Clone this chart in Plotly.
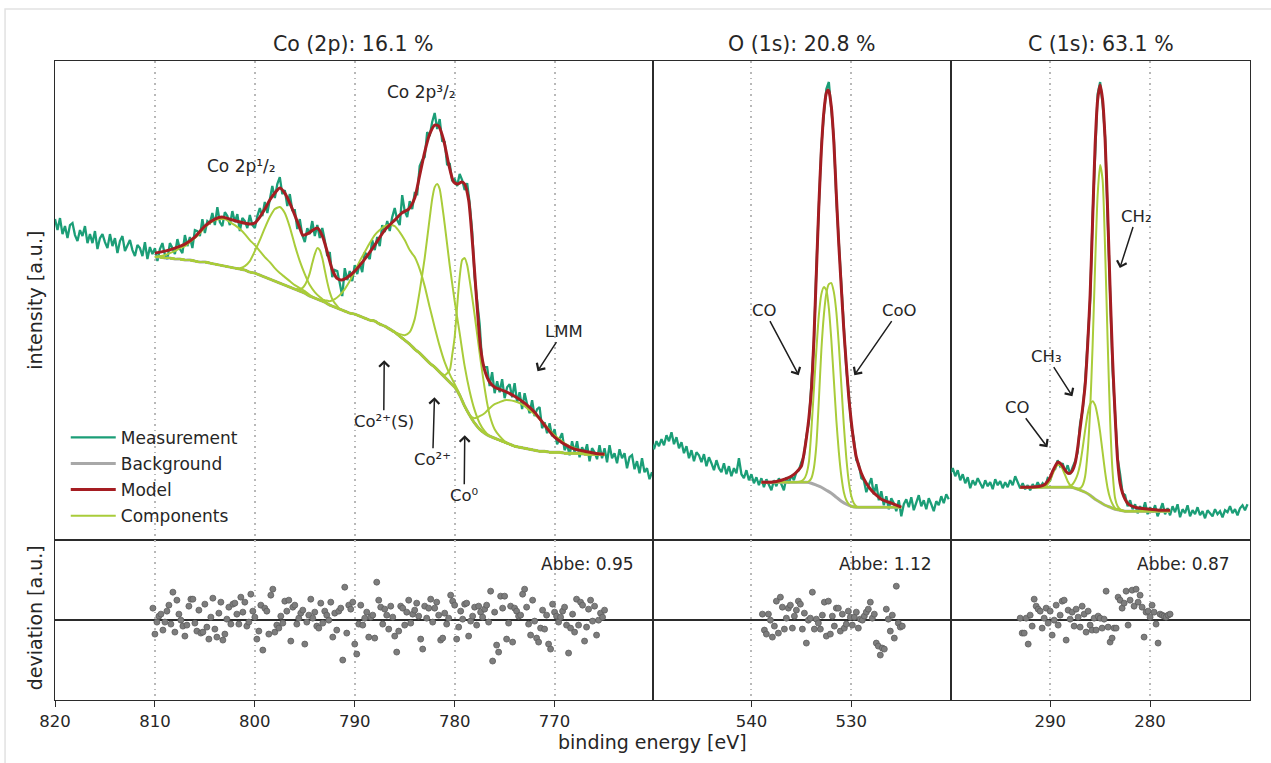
import numpy as np
import plotly.graph_objects as go
from plotly.subplots import make_subplots

# ======================= DATA =======================
# intensities are in arbitrary units (0 = bottom of the spectrum panel)
# ---------- Co 2p ----------
co_title = "Co (2p): 16.1 %"
co_range = [820.0, 760.2]
co_ticks = [820, 810, 800, 790, 780, 770]
co_meas_start, co_meas_step = 820.0, 0.25
co_meas = [
    321, 310, 322, 306, 314, 302, 315, 317, 305, 299,
    310, 304, 314, 297, 306, 297, 309, 291, 302, 306,
    298, 292, 306, 294, 302, 287, 299, 304, 289, 294,
    300, 290, 284, 295, 292, 284, 298, 281, 293, 286,
    292, 279, 291, 297, 285, 281, 297, 292, 286, 301,
    291, 287, 305, 294, 303, 292, 310, 309, 304, 321,
    307, 319, 317, 327, 315, 333, 318, 314, 328, 324,
    315, 329, 318, 326, 309, 322, 319, 312, 325, 315,
    312, 324, 332, 324, 338, 327, 342, 354, 342, 356,
    363, 346, 350, 334, 346, 330, 330, 311, 321, 305,
    298, 312, 306, 319, 304, 315, 302, 312, 300, 284,
    288, 263, 270, 269, 257, 244, 272, 260, 269, 259,
    275, 266, 277, 268, 288, 284, 281, 300, 290, 303,
    294, 315, 308, 319, 309, 323, 332, 320, 315, 345,
    329, 323, 339, 331, 347, 346, 374, 380, 383, 408,
    404, 418, 427, 411, 421, 399, 398, 375, 377, 359,
    361, 354, 366, 360, 350, 357, 337, 309, 263, 239,
    216, 177, 173, 173, 154, 168, 147, 159, 148, 161,
    142, 153, 156, 143, 157, 138, 148, 131, 147, 136,
    127, 140, 124, 131, 133, 112, 118, 107, 117, 104,
    111, 96, 102, 107, 90, 96, 85, 99, 88, 99,
    83, 93, 87, 96, 79, 92, 88, 81, 95, 82,
    92, 78, 95, 82, 87, 77, 91, 82, 87, 72,
    83, 85, 71, 79, 67, 82, 68, 72, 61, 68]
co_model_E = [810, 809, 808, 807, 806, 805, 804, 803.3, 802.5, 801.5, 800.5, 800,
              799.5, 799, 798.5, 798, 797.5, 797, 796.5, 796, 795.5, 795.2,
              794.6, 794.2, 793.7, 793.2, 792.8, 792.3, 791.8, 791.3, 790.7, 790,
              789, 788, 787, 786, 785.3, 784.6, 784, 783.5, 783, 782.5,
              782, 781.6, 781.1, 780.6, 780.1, 779.7, 779.3, 779, 778.6, 778.2,
              777.8, 777.4, 777, 776.5, 776, 775, 774, 773, 772, 771,
              770, 769, 768, 767, 766, 765]
co_model = [287, 289, 292, 296, 303, 314, 321, 323, 321, 318, 316, 317,
            323, 331, 340, 347, 352, 347, 337, 325, 312, 305,
            307, 310, 312, 303, 290, 272, 262, 260, 263, 269,
            281, 295, 310, 320, 327, 331, 342, 365, 388, 406,
            415, 414, 400, 376, 358, 356, 358, 356, 340, 295,
            240, 192, 170, 158, 153, 149, 144, 137, 128, 115,
            103, 96, 91, 89, 87, 86]
co_bg_start, co_bg_step = 810.0, 0.5
co_bg = [283, 283, 282, 282, 281, 281, 280, 280, 279, 278,
         278, 277, 276, 275, 274, 273, 272, 271, 270, 268,
         267, 265, 263, 261, 259, 257, 255, 253, 251, 249,
         247, 244, 242, 240, 238, 235, 233, 231, 229, 227,
         226, 224, 222, 220, 219, 216, 214, 211, 208, 204,
         200, 196, 191, 187, 182, 177, 173, 168, 163, 158,
         153, 145, 134, 125, 117, 111, 107, 104, 102, 100,
         98, 96, 94, 93, 92, 91, 90, 89, 89, 88,
         88, 88, 87, 87, 87, 87, 86, 86, 86, 86, 86]
co_c1_E = [810, 809.5, 809, 808.5, 808, 807.5, 807, 806.5, 806, 805.5, 805, 804.5, 804,
           803.5, 803, 802.5, 802, 801.5, 801, 800.5, 800, 799.5, 799, 798.5, 798,
           797.5, 797, 796.5, 796, 795.5, 795, 794.5, 794]
co_c1 = [283, 284, 285, 287, 289, 292, 294, 298, 302, 307, 313, 317, 320,
         321, 321, 318, 315, 311, 306, 300, 295, 289, 283, 278, 272,
         267, 263, 259, 255, 252, 249, 245, 242]
co_c2_E = [802, 801.5, 801, 800.5, 800, 799.5, 799, 798.5, 798, 797.5,
           797, 796.5, 796, 795.5, 795, 794.5, 794, 793.5, 793, 792.5]
co_c2 = [272, 272, 274, 279, 289, 300, 312, 323, 331, 333,
         327, 313, 295, 279, 266, 255, 248, 243, 239, 235]
co_c3_E = [796, 795.75, 795.5, 795.25, 795, 794.75, 794.5, 794.25, 794, 793.75,
           793.5, 793.25, 793, 792.75, 792.5, 792.25, 792, 791.75, 791.5]
co_c3 = [251, 251, 251, 252, 255, 260, 267, 277, 286, 292,
         290, 282, 270, 258, 248, 241, 237, 234, 231]
co_c4_E = [793, 792.5, 792, 791.5, 791, 790.5, 790, 789.5, 789, 788.5,
           788, 787.5, 787, 786.5, 786, 785.5, 785, 784.5, 784, 783.5,
           783, 782.5, 782, 781.5, 781, 780.5, 780, 779.5, 779]
co_c4 = [240, 239, 241, 245, 251, 259, 269, 279, 288, 297,
         305, 310, 314, 315, 314, 308, 300, 290, 283, 271,
         254, 233, 213, 194, 178, 166, 156, 146, 134]
co_c5_E = [786, 785.5, 785, 784.5, 784, 783.5, 783, 782.5, 782.25, 782, 781.75, 781.5,
           781.25, 781, 780.5, 780, 779.5, 779, 778.5, 778, 777.5, 777, 776.5]
co_c5 = [208, 206, 205, 208, 221, 249, 282, 322, 341, 353, 356, 351,
         335, 316, 275, 239, 207, 174, 149, 130, 117, 109, 104]
co_c6_E = [781.5, 781, 780.5, 780.25, 780, 779.75, 779.5, 779.25, 779, 778.75, 778.5, 778.25,
           778, 777.75, 777.5, 777.25, 777, 776.75, 776.5, 776, 775.5, 775, 774.5]
co_c6 = [168, 165, 170, 185, 203, 234, 263, 280, 282, 275, 260, 243,
         225, 206, 187, 169, 152, 137, 125, 111, 104, 99, 96]
co_c7_E = [778.5, 778, 777.5, 777, 776.5, 776, 775.5, 775, 774.5, 774, 773.5, 773, 772.5,
           772, 771.5, 771, 770.5, 770, 769.5, 769, 768.5, 768, 767.5, 767, 766, 765]
co_c7 = [125, 122, 124, 127, 132, 136, 138, 140, 140, 139, 137, 134, 130,
         126, 121, 116, 110, 105, 101, 97, 94, 92, 90, 88, 87, 86]
co_dev_start, co_dev_step = 810.2, 0.2
co_dev = [12, -14, -2, 4, 6, -10, -2, 9, 15, -4,
          28, -12, 20, 6, 0, -6, -16, -5, 14, 21,
          21, -3, -11, 10, -13, -12, 16, -7, -19, 3,
          22, -9, -17, 7, 18, -20, -14, 1, 13, -4,
          16, 17, 6, -4, 23, 8, 18, -6, -2, 26,
          9, 3, -19, -11, 15, -30, 12, 9, -14, 25,
          31, -12, -5, -8, 4, -3, 19, 9, 20, -21,
          13, 15, -4, 2, 7, 10, -24, -2, 5, 21,
          2, 8, -6, -8, 17, -3, 9, 5, 0, 18,
          -17, 7, -10, 9, 12, -40, 33, -13, 15, 11,
          18, -24, -34, -4, 15, -5, 2, 8, -17, 3,
          5, -18, 38, 20, 13, -4, 11, 5, -9, 14,
          3, -16, -32, -11, 14, 12, -5, 8, 20, -3,
          6, 10, 17, 4, -19, -29, 14, 2, 12, 21,
          -2, 12, 18, 5, -20, -18, 7, -4, 2, 25,
          19, 15, -19, -7, 9, 1, 16, 17, -16, -1,
          4, 13, -5, 14, 8, 3, 11, 15, -2, 29,
          -41, 8, -25, -32, 24, 12, 24, -19, -3, 14,
          -22, 12, 9, 4, 5, 26, 31, 13, -4, -15,
          20, -1, -18, -22, -8, 10, -9, 5, -24, -29,
          16, 8, 4, -2, 3, 9, 13, -5, -33, -8,
          6, -12, 21, -5, 18, 15, -21, -7, 11, 20,
          -1, 14, -15, 0, 7, 3, 10]
co_abbe = "Abbe: 0.95"

# ---------- O 1s ----------
o_title = "O (1s): 20.8 %"
o_range = [549.9, 520.0]
o_ticks = [540, 530]
o_meas_start, o_meas_step = 550.0, 0.25
o_meas = [
    98, 91, 99, 94, 101, 95, 105, 99, 108, 96,
    103, 92, 98, 87, 94, 82, 90, 79, 88, 85,
    78, 86, 74, 83, 77, 70, 80, 72, 68, 77,
    66, 74, 64, 72, 67, 82, 66, 62, 70, 60,
    66, 57, 63, 55, 62, 53, 61, 56, 50, 60,
    54, 62, 55, 50, 63, 57, 65, 60, 68, 70,
    78, 84, 104, 118, 156, 196, 272, 331, 394, 425,
    451, 458, 430, 402, 340, 300, 249, 214, 171, 146,
    114, 101, 80, 76, 62, 60, 48, 55, 62, 46,
    56, 40, 49, 35, 44, 31, 42, 37, 29, 40,
    24, 36, 41, 33, 43, 30, 38, 45, 34, 40,
    31, 42, 36, 29, 39, 35, 44, 37, 46, 41]
o_model_E = [539, 538, 537, 536, 535.5, 535, 534.75, 534.5, 534.25, 534,
             533.75, 533.5, 533.25, 533, 532.75, 532.5, 532.35, 532.25, 532, 531.75,
             531.5, 531.25, 531, 530.75, 530.5, 530.25, 530, 529.75, 529.5, 529,
             528.5, 528, 527.5, 527, 526, 525]
o_model = [58, 58, 60, 64, 68, 74, 86, 102, 122, 150,
           200, 267, 335, 390, 428, 447, 450, 449, 433, 398,
           345, 295, 252, 210, 175, 142, 118, 98, 83, 67,
           57, 50, 45, 41, 37, 33]
o_bg_E = [539, 537, 535, 534.5, 534, 533.5, 533, 532.5, 532, 531.5, 531, 530.5,
          530, 529.5, 529, 527, 525]
o_bg = [58, 58, 58, 58, 57, 55, 53, 50, 47, 43, 39, 36, 34, 33, 33, 33, 33]
o_c1_E = [535.5, 535, 534.75, 534.5, 534.25, 534, 533.75, 533.5, 533.25, 533, 532.75, 532.5,
          532.25, 532, 531.75, 531.5, 531.25, 531, 530.75, 530.5, 530.25, 530, 529.5]
o_c1 = [58, 59, 61, 66, 78, 110, 150, 190, 225, 246, 253, 250,
        232, 200, 160, 120, 88, 64, 48, 40, 36, 34, 33]
o_c2_E = [535.5, 535, 534.5, 534.25, 534, 533.75, 533.5, 533.25, 533, 532.75, 532.5, 532.25,
          532, 531.75, 531.5, 531.25, 531, 530.75, 530.5, 530.25, 530, 529.75, 529.5, 529.25]
o_c2 = [58, 58, 58, 59, 62, 72, 95, 140, 190, 225, 247, 256,
        257, 248, 228, 195, 155, 115, 82, 58, 44, 37, 34, 33]
o_dev_start, o_dev_step = 538.9, 0.2
o_dev = [6, -10, -14, 6, 0, -17, -6, 19, -13, 23,
         13, -9, 2, 12, 15, -8, 4, 10, 19, 16,
         -9, 7, -23, 0, 2, 28, -9, 1, -3, -9,
         5, 18, -16, 19, -14, 4, -6, 12, 12, -11,
         6, -8, -4, 9, 3, -5, 3, 8, -8, 1,
         0, 4, 8, 11, 18, 2, 6, -23, -26, -35,
         -28, -29, 11, 1, -11, 5, -18, 34, -3, -7,
         -6]
o_abbe = "Abbe: 1.12"

# ---------- C 1s ----------
c_title = "C (1s): 63.1 %"
c_range = [299.9, 270.0]
c_ticks = [290, 280]
c_meas_start, c_meas_step = 300.0, 0.25
c_meas = [
    67, 72, 64, 70, 60, 66, 57, 63, 52, 60,
    55, 62, 57, 52, 60, 54, 58, 51, 61, 55,
    59, 52, 58, 53, 60, 55, 64, 58, 52, 57,
    51, 55, 50, 56, 52, 58, 53, 57, 54, 62,
    60, 69, 71, 80, 74, 77, 68, 75, 66, 73,
    79, 88, 117, 130, 158, 198, 240, 324, 392, 446,
    458, 436, 403, 326, 252, 170, 126, 82, 66, 47,
    45, 34, 40, 31, 36, 27, 34, 29, 38, 26,
    33, 28, 35, 24, 30, 37, 26, 32, 25, 34,
    28, 36, 23, 31, 27, 35, 24, 30, 26, 33,
    25, 29, 22, 30, 27, 24, 31, 26, 29, 23,
    30, 28, 34, 27, 31, 25, 32, 35, 30, 36]
c_model_E = [293, 292, 291, 290.5, 290.25, 290, 289.75, 289.5, 289.25, 289,
             288.75, 288.5, 288.25, 288, 287.75, 287.5, 287.25, 287, 286.75, 286.5,
             286.25, 286, 285.75, 285.5, 285.25, 285, 284.75, 284.5, 284.25, 284,
             283.75, 283.5, 283.25, 283, 282.75, 282.5, 282.25, 282, 281.5, 281,
             280, 279, 278]
c_model = [53, 53, 54, 56, 59, 63, 69, 74, 78, 77,
           74, 70, 67, 67, 70, 77, 92, 112, 132, 155,
           195, 245, 320, 395, 440, 455, 440, 400, 330, 250,
           180, 125, 80, 57, 47, 41, 37, 35, 33, 32,
           31, 30, 30]
c_bg_E = [293, 289, 288, 287.5, 287, 286.5, 286, 285.5, 285, 284.5, 284, 283.5,
          283, 282.5, 282, 278]
c_bg = [53, 53, 53, 52, 50, 48, 45, 41, 38, 35, 33, 31, 30, 29, 29, 29]
c_c1_E = [290.75, 290.5, 290.25, 290, 289.75, 289.5, 289.25, 289, 288.75, 288.5,
          288.25, 288, 287.75, 287.5]
c_c1 = [53, 54, 56, 60, 66, 72, 75, 75, 71, 65, 59, 55, 53, 52]
c_c2_E = [288.5, 288, 287.75, 287.5, 287.25, 287, 286.75, 286.5, 286.25, 286, 285.75, 285.5,
          285.25, 285, 284.75, 284.5, 284.25, 284, 283.75, 283.5, 283.25, 283, 282.5]
c_c2 = [53, 54, 56, 60, 66, 76, 92, 110, 126, 136, 139, 135,
        124, 108, 88, 68, 52, 42, 36, 32, 31, 30, 29]
c_c3_E = [287.5, 287, 286.75, 286.5, 286.25, 286, 285.75, 285.5, 285.25, 285,
          284.75, 284.5, 284.25, 284, 283.75, 283.5, 283.25, 283, 282.5]
c_c3 = [52, 52, 55, 64, 88, 130, 195, 275, 345, 375,
        360, 290, 200, 120, 68, 42, 34, 31, 29]
c_dev_start, c_dev_step = 293.0, 0.2
c_dev = [2, -13, -13, 2, -24, 5, -6, 21, 14, 11,
         9, -8, 2, 12, -3, 9, -15, 0, 15, -5,
         5, 19, 20, -20, 10, 1, 8, -6, 11, 3,
         -7, 14, 6, -12, 9, -5, -10, 2, -10, 4,
         2, -8, 1, 29, -7, -22, -18, -8, -8, 23,
         20, 12, 17, 29, -5, 20, 30, 14, 31, 18,
         25, 13, -17, 8, 9, 3, 15, 8, -4, -23,
         6, 5, 4, 3, 5, 6]
c_abbe = "Abbe: 0.87"

legend_names = ["Measurement", "Background", "Model", "Components"]

# ======================= STYLE =======================
FONT = "DejaVu Sans"
TXT = "#262626"
C_MEAS = "#1b9e77"
C_BG = "#a8a8a8"
C_MODEL = "#a51d22"
C_COMP = "#a9cc3a"
C_DEV = "#7d7d7d"
FRAME = "#2b2b2b"
Y_TOP = [0, 479]
Y_DEV = [-80, 80]


def grid(start, step, n):
    return start - step * np.arange(n)


def with_base(pE, pv, bE, bv):
    """component drawn over the whole fit range: background outside its own region"""
    lo, hi = min(pE), max(pE)
    left = [(e, v) for e, v in zip(bE, bv) if e > hi]
    right = [(e, v) for e, v in zip(bE, bv) if e < lo]
    pts = left + list(zip(pE, pv)) + right
    return [p[0] for p in pts], [p[1] for p in pts]


co_bg_E = list(grid(co_bg_start, co_bg_step, len(co_bg)))

panels = [
    dict(meas=(grid(co_meas_start, co_meas_step, len(co_meas)), co_meas),
         bg=(co_bg_E, co_bg), model=(co_model_E, co_model),
         comps=[(co_c1_E, co_c1), (co_c2_E, co_c2), (co_c3_E, co_c3), (co_c4_E, co_c4),
                (co_c5_E, co_c5), (co_c6_E, co_c6), (co_c7_E, co_c7)],
         dev=(grid(co_dev_start, co_dev_step, len(co_dev)), co_dev)),
    dict(meas=(grid(o_meas_start, o_meas_step, len(o_meas)), o_meas),
         bg=(o_bg_E, o_bg), model=(o_model_E, o_model),
         comps=[(o_c1_E, o_c1), (o_c2_E, o_c2)],
         dev=(grid(o_dev_start, o_dev_step, len(o_dev)), o_dev)),
    dict(meas=(grid(c_meas_start, c_meas_step, len(c_meas)), c_meas),
         bg=(c_bg_E, c_bg), model=(c_model_E, c_model),
         comps=[(c_c1_E, c_c1), (c_c2_E, c_c2), (c_c3_E, c_c3)],
         dev=(grid(c_dev_start, c_dev_step, len(c_dev)), c_dev)),
]

fig = make_subplots(rows=2, cols=3, column_widths=[0.5, 0.25, 0.25],
                    row_heights=[0.75, 0.25], horizontal_spacing=0,
                    vertical_spacing=0, shared_xaxes=True)

for i, p in enumerate(panels):
    col = i + 1
    first = (i == 0)
    fig.add_trace(go.Scatter(x=p["meas"][0], y=p["meas"][1], mode="lines",
                             line=dict(color=C_MEAS, width=2.3),
                             name=legend_names[0], legendgroup="meas", legendrank=1,
                             showlegend=first), row=1, col=col)
    fig.add_trace(go.Scatter(x=p["bg"][0], y=p["bg"][1], mode="lines",
                             line=dict(color=C_BG, width=3, shape="spline", smoothing=0.6),
                             name=legend_names[1], legendgroup="bg", legendrank=2,
                             showlegend=first), row=1, col=col)
    for k, (cE, cv) in enumerate(p["comps"]):
        xE, yv = with_base(cE, cv, p["bg"][0], p["bg"][1])
        fig.add_trace(go.Scatter(x=xE, y=yv, mode="lines",
                                 line=dict(color=C_COMP, width=2, shape="spline", smoothing=0.6),
                                 name=legend_names[3], legendgroup="comp", legendrank=4,
                                 showlegend=(first and k == 0)), row=1, col=col)
    fig.add_trace(go.Scatter(x=p["model"][0], y=p["model"][1], mode="lines",
                             line=dict(color=C_MODEL, width=3, shape="spline", smoothing=0.6),
                             name=legend_names[2], legendgroup="model", legendrank=3,
                             showlegend=first), row=1, col=col)
    fig.add_trace(go.Scatter(x=p["dev"][0], y=p["dev"][1], mode="markers",
                             marker=dict(color=C_DEV, size=6,
                                         line=dict(color="#5e5e5e", width=0.8)),
                             showlegend=False), row=2, col=col)

ranges = [co_range, o_range, c_range]
ticks = [co_ticks, o_ticks, c_ticks]
for i in range(3):
    for r in (1, 2):
        fig.update_xaxes(range=ranges[i], tickvals=ticks[i], showline=True, mirror=True,
                         linecolor=FRAME, linewidth=1.4, showgrid=True,
                         gridcolor="#b8b8b8", griddash="1.5px,4px", gridwidth=1.5,
                         zeroline=False,
                         ticks="outside" if r == 2 else "", ticklen=6, tickwidth=1.3,
                         tickcolor=FRAME, showticklabels=(r == 2),
                         tickfont=dict(size=16.5, color=TXT, family=FONT),
                         row=r, col=i + 1)
        fig.update_yaxes(range=Y_TOP if r == 1 else Y_DEV, showline=True, mirror=True,
                         linecolor=FRAME, linewidth=1.4, showgrid=False,
                         showticklabels=False, ticks="",
                         zeroline=(r == 2), zerolinecolor=FRAME, zerolinewidth=1.6,
                         row=r, col=i + 1)

ann = []
# panel titles
for txt, xc in [(co_title, 0.25), (o_title, 0.625), (c_title, 0.875)]:
    ann.append(dict(text=txt, x=xc, y=1.0266, xref="paper", yref="paper",
                    xanchor="center", yanchor="middle", showarrow=False,
                    font=dict(size=20.5, color=TXT, family=FONT)))
# axis titles
ann.append(dict(text="intensity [a.u.]", x=-0.0167, y=0.625, xref="paper", yref="paper",
                textangle=-90, showarrow=False, xanchor="center", yanchor="middle",
                font=dict(size=19, color=TXT, family=FONT)))
ann.append(dict(text="deviation [a.u.]", x=-0.0167, y=0.128, xref="paper", yref="paper",
                textangle=-90, showarrow=False, xanchor="center", yanchor="middle",
                font=dict(size=19, color=TXT, family=FONT)))
ann.append(dict(text="binding energy [eV]", x=0.5, y=-0.0657, xref="paper", yref="paper",
                showarrow=False, xanchor="center", yanchor="middle",
                font=dict(size=19, color=TXT, family=FONT)))

# peak labels without arrows
for xr, yr, t, xx, yy in [("x", "y", "Co 2p\u00b9/\u2082", 801.3, 374),
                          ("x", "y", "Co 2p\u00b3/\u2082", 783.35, 448)]:
    ann.append(dict(text=t, x=xx, y=yy, xref=xr, yref=yr, showarrow=False,
                    xanchor="center", yanchor="middle",
                    font=dict(size=17, color=TXT, family=FONT)))

# peak labels with arrows: (xref, yref, text, text_x, text_y, head_x, head_y)
arrow_labels = [
    ("x", "y", "LMM", 769.1, 209, 771.71, 169),
    ("x", "y", "Co\u00b2\u207a(S)", 787.1, 119, 787.05, 180),
    ("x", "y", "Co\u00b2\u207a", 782.2, 81, 782.02, 143),
    ("x", "y", "Co\u2070", 779.05, 45, 778.99, 105),
    ("x2", "y2", "CO", 538.73, 230, 535.27, 165),
    ("x2", "y2", "CoO", 525.2, 230, 529.7, 165),
    ("x3", "y3", "CH\u2082", 281.35, 324, 283.03, 272),
    ("x3", "y3", "CH\u2083", 290.35, 184, 287.77, 144),
    ("x3", "y3", "CO", 293.27, 133, 290.27, 93),
]
for xr, yr, t, tx, ty, hx, hy in arrow_labels:
    ann.append(dict(text=t, x=hx, y=hy, ax=tx, ay=ty, xref=xr, yref=yr,
                    axref=xr, ayref=yr, showarrow=True, arrowhead=4, arrowsize=1.3,
                    arrowwidth=1.5, arrowcolor="#1e1e1e", standoff=0,
                    font=dict(size=16.5, color=TXT, family=FONT)))

# Abbe values in the deviation panels
for xr, yr, t, xx in [("x4", "y4", co_abbe, 761.86), ("x5", "y5", o_abbe, 521.74),
                      ("x6", "y6", c_abbe, 271.82)]:
    ann.append(dict(text=t, x=xx, y=56, xref=xr, yref=yr, showarrow=False,
                    xanchor="right", yanchor="middle",
                    font=dict(size=17, color=TXT, family=FONT)))

fig.update_layout(
    width=1271, height=763,
    margin=dict(l=55, r=21, t=61, b=63),
    paper_bgcolor="white", plot_bgcolor="white",
    font=dict(family=FONT, color=TXT, size=17),
    annotations=ann,
    legend=dict(x=0.009, y=0.26, xanchor="left", yanchor="bottom",
                bgcolor="rgba(0,0,0,0)", font=dict(size=17, color=TXT, family=FONT),
                tracegroupgap=1, itemwidth=45),
    shapes=[dict(type="rect", xref="paper", yref="paper", x0=-0.0418, x1=1.2,
                 y0=-0.3, y1=1.0814, line=dict(color="#e2e2e2", width=1.5),
                 layer="below")],
)

fig.write_html("out.html", config={"displayModeBar": False})
